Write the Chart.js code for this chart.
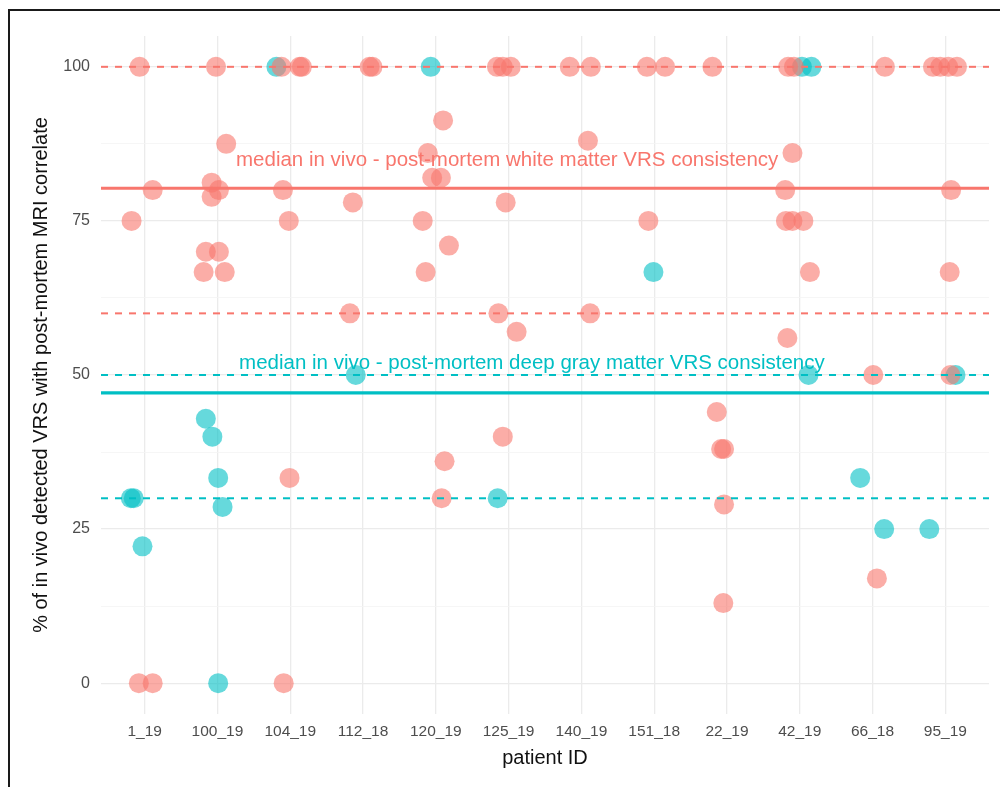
<!DOCTYPE html>
<html>
<head>
<meta charset="utf-8">
<script src="https://cdn.jsdelivr.net/npm/chart.js@4.4.1/dist/chart.umd.min.js"></script>
<style>
  html, body { margin: 0; padding: 0; background: #fff; }
  #wrap { position: relative; width: 1000px; height: 787px; }
  #frame { position: absolute; left: 8px; top: 9px; width: 1100px; height: 900px;
           border-left: 2px solid #1a1a1a; border-top: 2px solid #1a1a1a; pointer-events: none; }
</style>
</head>
<body>
<div id="wrap">
  <canvas id="chart" width="1000" height="787"></canvas>
  <div id="frame"></div>
</div>
<script>
// 病人編號(類別)
const categories = ["1_19", "100_19", "104_19", "112_18", "120_19", "125_19",
  "140_19", "151_18", "22_19", "42_19", "66_18", "95_19"];

// 白質 (紅點) - x 為抖動後的類別位置
const whiteX = [0.93, 1.11, 0.82, 0.92, 1.11,
  1.98, 2.12, 1.92, 2.02, 1.92, 1.84, 2.02, 1.81, 2.10,
  2.88, 3.13, 3.16, 2.90, 2.98, 2.99, 2.91,
  4.09, 4.13, 3.86, 3.82,
  5.10, 4.89, 4.95, 5.07, 4.82, 5.18, 4.86, 5.12, 5.08,
  5.84, 5.92, 6.03, 5.96, 5.86, 6.11, 5.92,
  6.84, 7.13, 7.09, 7.12,
  7.90, 8.15, 7.92,
  8.80, 8.86, 8.92, 8.96, 8.96, 8.95,
  9.84, 9.92, 9.90, 9.80, 9.81, 9.90, 10.05, 10.14, 9.83,
  11.17, 11.01, 11.06,
  11.83, 11.93, 12.04, 12.16, 12.08, 12.06, 12.07];
const whiteY = [100, 80, 75, 0, 0,
  100, 87.5, 81.2, 80, 78.9, 70, 70, 66.7, 66.7,
  100, 100, 100, 80, 75, 33.3, 0,
  100, 100, 78, 60,
  91.3, 86, 82, 82, 75, 71, 66.7, 36, 30,
  100, 100, 100, 78, 60, 57, 40,
  100, 100, 88, 60,
  100, 100, 75,
  100, 44, 38, 38, 29, 13,
  100, 100, 86, 80, 75, 75, 75, 66.7, 56,
  100, 50, 17,
  100, 100, 100, 100, 80, 66.7, 50];

// 深部灰質 (青點)
const grayX = [0.81, 0.85, 0.97,
  1.84, 1.93, 2.01, 2.07, 2.01,
  2.81, 3.90, 4.93, 5.85, 7.99,
  10.03, 10.16, 10.12,
  10.83, 11.16,
  11.78, 12.14];
const grayY = [30, 30, 22.2,
  42.9, 40, 33.3, 28.6, 0,
  100, 50, 100, 30, 66.7,
  100, 100, 50,
  33.3, 25,
  25, 50];

// 參考線
const whiteDashed = [100, 60];
const whiteMedian = 80.3;
const grayDashed = [50, 30];
const grayMedian = 47.1;

const yTicks = [0, 12.5, 25, 37.5, 50, 62.5, 75, 87.5, 100];
const xMin = 0.4, xMax = 12.6, yMin = -5, yMax = 105;

const RED = "#F8766D";
const TEAL = "#00BFC4";
const FONT = "'Liberation Sans', Arial, sans-serif";

function hline(y, color, dashed) {
  return {
    type: "line",
    data: [{ x: xMin, y: y }, { x: xMax, y: y }],
    borderColor: color,
    borderWidth: dashed ? 2 : 3.2,
    borderDash: dashed ? [7, 7] : [],
    pointRadius: 0,
    fill: false,
    order: 1,
  };
}

function points(xs, ys, color) {
  return {
    type: "scatter",
    data: xs.map((x, i) => ({ x: x, y: ys[i] })),
    backgroundColor: color,
    borderWidth: 0,
    pointRadius: 10,
    pointHoverRadius: 10,
    order: 2,
  };
}

// 文字標註與座標軸標題
const labelsPlugin = {
  id: "labels",
  afterDatasetsDraw(chart) {
    const c = chart.ctx;
    const xs = chart.scales.x, ys = chart.scales.y;
    c.save();
    c.textAlign = "center";
    c.textBaseline = "middle";
    c.font = "20.5px " + FONT;
    c.fillStyle = RED;
    c.fillText("median in vivo - post-mortem white matter VRS consistency",
      xs.getPixelForValue(5.98), ys.getPixelForValue(84.9));
    c.fillStyle = TEAL;
    c.fillText("median in vivo - post-mortem deep gray matter VRS consistency",
      xs.getPixelForValue(6.32), ys.getPixelForValue(51.9));

    c.fillStyle = "#111";
    c.font = "20px " + FONT;
    const a = chart.chartArea;
    c.fillText("patient ID", (a.left + a.right) / 2, 758);
    c.translate(41, (a.top + a.bottom) / 2);
    c.rotate(-Math.PI / 2);
    c.fillText("% of in vivo detected VRS with post-mortem MRI correlate", 0, 0);
    c.restore();
  },
};

const chart = new Chart(document.getElementById("chart"), {
  data: {
    datasets: [
      points(whiteX, whiteY, "rgba(248,118,109,0.6)"),
      points(grayX, grayY, "rgba(0,191,196,0.6)"),
      hline(whiteDashed[0], RED, true),
      hline(whiteDashed[1], RED, true),
      hline(whiteMedian, RED, false),
      hline(grayDashed[0], TEAL, true),
      hline(grayDashed[1], TEAL, true),
      hline(grayMedian, TEAL, false),
    ],
  },
  options: {
    responsive: false,
    animation: false,
    layout: { padding: { top: 36, right: 11, left: 0, bottom: 0 } },
    plugins: { legend: { display: false }, tooltip: { enabled: false } },
    scales: {
      x: {
        type: "linear",
        min: xMin,
        max: xMax,
        afterBuildTicks: (s) => { s.ticks = categories.map((_, i) => ({ value: i + 1 })); },
        afterFit: (s) => { s.height = 73; },
        ticks: {
          callback: (v) => categories[v - 1],
          color: "#4d4d4d",
          font: { size: 15.5, family: FONT },
          padding: 8,
          maxRotation: 0,
          autoSkip: false,
        },
        grid: { color: "#ebebeb", lineWidth: 1.3, drawTicks: false },
        border: { display: false },
      },
      y: {
        min: yMin,
        max: yMax,
        afterBuildTicks: (s) => { s.ticks = yTicks.map((v) => ({ value: v })); },
        afterFit: (s) => { s.width = 101; },
        ticks: {
          callback: (v) => (v % 25 === 0 ? v : ""),
          color: "#4d4d4d",
          font: { size: 16, family: FONT },
          padding: 11,
          autoSkip: false,
        },
        grid: {
          color: (ctx) => (ctx.tick && ctx.tick.value % 25 === 0 ? "#ebebeb" : "#f4f4f4"),
          lineWidth: (ctx) => (ctx.tick && ctx.tick.value % 25 === 0 ? 1.3 : 0.8),
          drawTicks: false,
        },
        border: { display: false },
      },
    },
  },
  plugins: [labelsPlugin],
});
</script>
</body>
</html>
